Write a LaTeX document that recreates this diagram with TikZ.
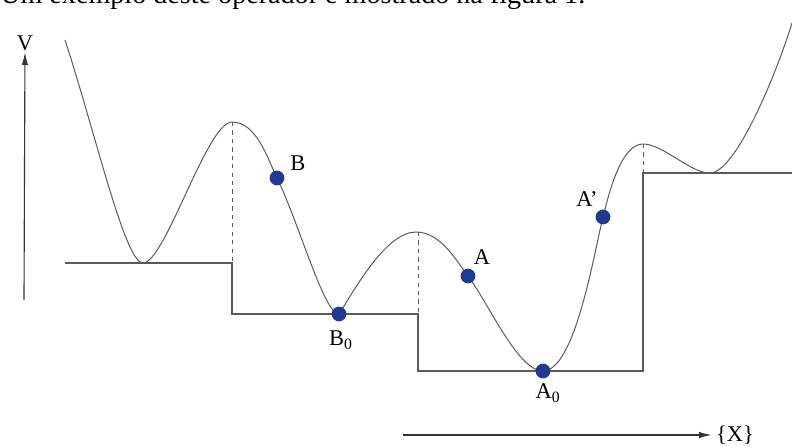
\documentclass[tikz,border=0pt]{standalone}
\usepackage{fontspec}
\setmainfont{Liberation Serif}
\usetikzlibrary{arrows.meta, positioning}
\definecolor{curvegray}{HTML}{5A5A5A}
\definecolor{dotblue}{HTML}{1F3A8F}

\begin{document}
\begin{tikzpicture}[
    x=0.025cm, y=0.025cm,
    >={Latex[length=9pt, width=4.5pt]},
    curve/.style={draw=curvegray, line width=0.7pt},
    level/.style={draw=curvegray, line width=0.8pt},
    guide/.style={draw=curvegray, line width=0.6pt, dashed},
    axis/.style={draw=black!80, line width=0.8pt, ->},
    state/.style={circle, fill=dotblue, inner sep=0pt, minimum size=10.5pt},
    lbl/.style={font=\fontsize{16}{18}\selectfont, inner sep=1pt},
]
    \path[use as bounding box, clip] (0,0) rectangle (792,448);

    % caption line, cut by the top edge
    \node[anchor=base west, inner sep=0pt, font=\fontsize{20}{24}\selectfont] (caption) at (0,444) {Um exemplo deste operador é mostrado na figura 1.};

    % extrema of the potential
    \coordinate (top1) at (65,408);
    \coordinate (min1) at (143,185);
    \coordinate (max1) at (232,326);
    \coordinate (max2) at (416,216);
    \coordinate (max3) at (643,304);
    \coordinate (min3) at (710,275);
    \coordinate (top2) at (792,425);

    % states on the curve
    \coordinate (pB) at (277,270);
    \coordinate (pB0) at (339,134);
    \coordinate (pA) at (468,172);
    \coordinate (pA0) at (543,77);
    \coordinate (pAp) at (603,231);

    % staircase of levels
    \draw[level] (top1 |- min1) -| (232,134) -| (418,77) -| (max3 |- min3) -- (top2 |- min3);
    \draw[guide] (max1) -- (max1 |- min1);
    \draw[guide] (418,216) -- (418,134);
    \draw[guide] (max3) -- (max3 |- min3);

    % the potential
    \draw[curve] (top1) .. controls (96,313) and (125,185) .. (min1)
        .. controls (165,185) and (207,326) .. (max1)
        .. controls (257,326) and (268,288) .. (pB)
        .. controls (299,225) and (324,134) .. (pB0)
        .. controls (355,159) and (386,216) .. (max2)
        .. controls (441,216) and (457,186) .. (pA)
        .. controls (489,144) and (518,77) .. (pA0)
        .. controls (575,77) and (594,195) .. (pAp)
        .. controls (609,255) and (621,304) .. (max3)
        .. controls (663,304) and (690,275) .. (min3)
        .. controls (735,275) and (775,370) .. (top2);

    \node[state] (b) at (pB) {};
    \node[state] (b0) at (pB0) {};
    \node[state] (a) at (pA) {};
    \node[state] (a0) at (pA0) {};
    \node[state] (ap) at (pAp) {};

    \node[lbl] (blbl) at (298,285) {B};
    \node[lbl] (b0lbl) at (341,108) {B\textsubscript{0}};
    \node[lbl] (albl) at (482,191) {A};
    \node[lbl] (a0lbl) at (548,55) {A\textsubscript{0}};
    \node[lbl] (aplbl) at (587,249) {A'};

    % axes
    \coordinate (vfoot) at (24,148);
    \node[lbl] (vlbl) at (25,405) {V};
    \draw[axis] (vfoot) -- (vlbl);
    \coordinate (xfoot) at (403,13);
    \node[lbl, inner sep=3pt] (xlbl) at (735,13) {\{X\}};
    \draw[axis] (xfoot) -- (xlbl);
\end{tikzpicture}
\end{document}
